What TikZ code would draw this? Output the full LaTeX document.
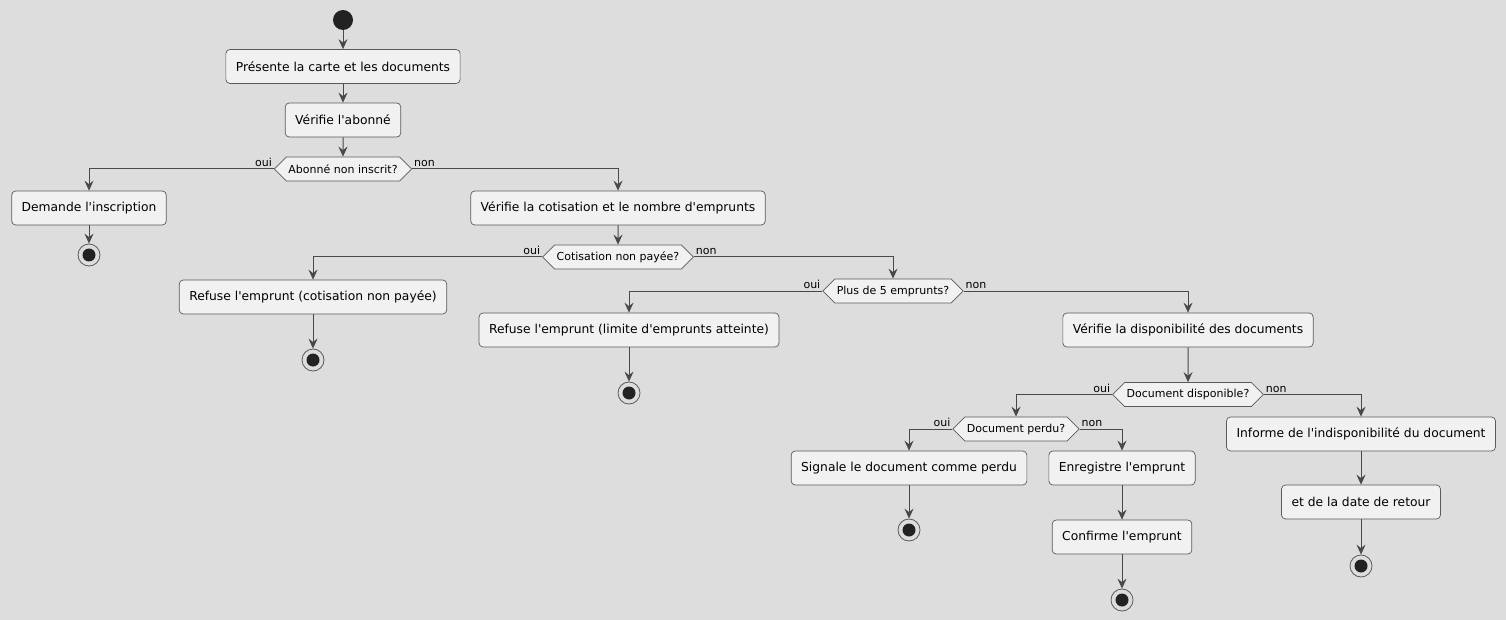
\documentclass[tikz,border=0pt]{standalone}
\usepackage{fontspec}
\setmainfont{DejaVu Sans}
\usetikzlibrary{positioning,arrows.meta,shapes.symbols}
\definecolor{bgcol}{HTML}{DDDDDD}
\definecolor{boxcol}{HTML}{F1F1F1}
\definecolor{linecol}{HTML}{494949}
\definecolor{bordercol}{HTML}{5A5A5A}
\definecolor{dotcol}{HTML}{222222}
\newcommand{\ap}{\textquotesingle}

\begin{document}
\begin{tikzpicture}[x=1pt,y=-1pt,draw=linecol]
    \tikzstyle{act}=[rectangle,rounded corners=4pt,draw=bordercol,fill=boxcol,line width=0.7pt,
        minimum height=34pt,inner xsep=10pt,font=\fontsize{12.3pt}{14pt}\selectfont]
    \tikzstyle{cond}=[signal,signal to=west and east,draw=bordercol,fill=boxcol,line width=0.7pt,
        minimum height=24pt,inner xsep=2pt,inner ysep=0pt,font=\fontsize{11pt}{13pt}\selectfont]
    \tikzstyle{start}=[circle,fill=dotcol,minimum size=20pt,inner sep=0pt]
    \tikzstyle{stop}=[circle,draw=bordercol,line width=0.8pt,minimum size=22pt,inner sep=0pt,
        path picture={\fill[dotcol] (path picture bounding box.center) circle (6.5pt);}]
    \tikzstyle{ouil}=[anchor=south east,inner sep=1.5pt,font=\fontsize{11pt}{13pt}\selectfont]
    \tikzstyle{nonl}=[anchor=south west,inner sep=1.5pt,font=\fontsize{11pt}{13pt}\selectfont]
    \tikzstyle{edge}=[draw=linecol,line width=1pt,-{Stealth[length=10pt,width=9pt,inset=3.5pt]}]

    \fill[bgcol] (0,0) rectangle (1506,620);
    \useasboundingbox (0,0) rectangle (1506,620);

    % main column
    \node[start] (start) at (343,20) {};
    \node[act] (pres) at (343,66.5) {Présente la carte et les documents};
    \node[act] (verif) at (343,120) {Vérifie l\ap abonné};
    \node[cond] (inscrit) at (343,169) {Abonné non inscrit?};

    \node[act] (demande) at (89,208) {Demande l\ap inscription};
    \node[stop] (stopA) at (89,255) {};

    \node[act] (cotis) at (618,208) {Vérifie la cotisation et le nombre d\ap emprunts};
    \node[cond] (paye) at (618,257) {Cotisation non payée?};
    \node[act] (refusA) at (313,297) {Refuse l\ap emprunt (cotisation non payée)};
    \node[stop] (stopB) at (313,360) {};

    \node[cond] (plus) at (893,291) {Plus de 5 emprunts?};
    \node[act] (refusB) at (629,330) {Refuse l\ap emprunt (limite d\ap emprunts atteinte)};
    \node[stop] (stopC) at (629,393) {};

    \node[act] (dispo) at (1188,330) {Vérifie la disponibilité des documents};
    \node[cond] (dispoq) at (1188,394.5) {Document disponible?};

    % document available
    \node[cond] (perdu) at (1016,429) {Document perdu?};
    \node[act] (signale) at (909,468) {Signale le document comme perdu};
    \node[stop] (stopD) at (909,530) {};
    \node[act] (enreg) at (1122,468) {Enregistre l\ap emprunt};
    \node[act] (confirme) at (1122,537) {Confirme l\ap emprunt};
    \node[stop] (stopE) at (1122,600) {};

    % document not available
    \node[act] (informe) at (1361,434) {Informe de l\ap indisponibilité du document};
    \node[act] (retour) at (1361,502) {et de la date de retour};
    \node[stop] (stopF) at (1361,566) {};

    \draw[edge] (start) -- (pres);
    \draw[edge] (pres) -- (verif);
    \draw[edge] (verif) -- (inscrit);
    \draw[edge] (inscrit.west) node[ouil] {oui} -| (demande);
    \draw[edge] (demande) -- (stopA);
    \draw[edge] (inscrit.east) node[nonl] {non} -| (cotis);
    \draw[edge] (cotis) -- (paye);
    \draw[edge] (paye.west) node[ouil] {oui} -| (refusA);
    \draw[edge] (refusA) -- (stopB);
    \draw[edge] (paye.east) node[nonl] {non} -| (plus);
    \draw[edge] (plus.west) node[ouil] {oui} -| (refusB);
    \draw[edge] (refusB) -- (stopC);
    \draw[edge] (plus.east) node[nonl] {non} -| (dispo);
    \draw[edge] (dispo) -- (dispoq);
    \draw[edge] (dispoq.west) node[ouil] {oui} -| (perdu);
    \draw[edge] (perdu.west) node[ouil] {oui} -| (signale);
    \draw[edge] (signale) -- (stopD);
    \draw[edge] (perdu.east) node[nonl] {non} -| (enreg);
    \draw[edge] (enreg) -- (confirme);
    \draw[edge] (confirme) -- (stopE);
    \draw[edge] (dispoq.east) node[nonl] {non} -| (informe);
    \draw[edge] (informe) -- (retour);
    \draw[edge] (retour) -- (stopF);
\end{tikzpicture}
\end{document}
